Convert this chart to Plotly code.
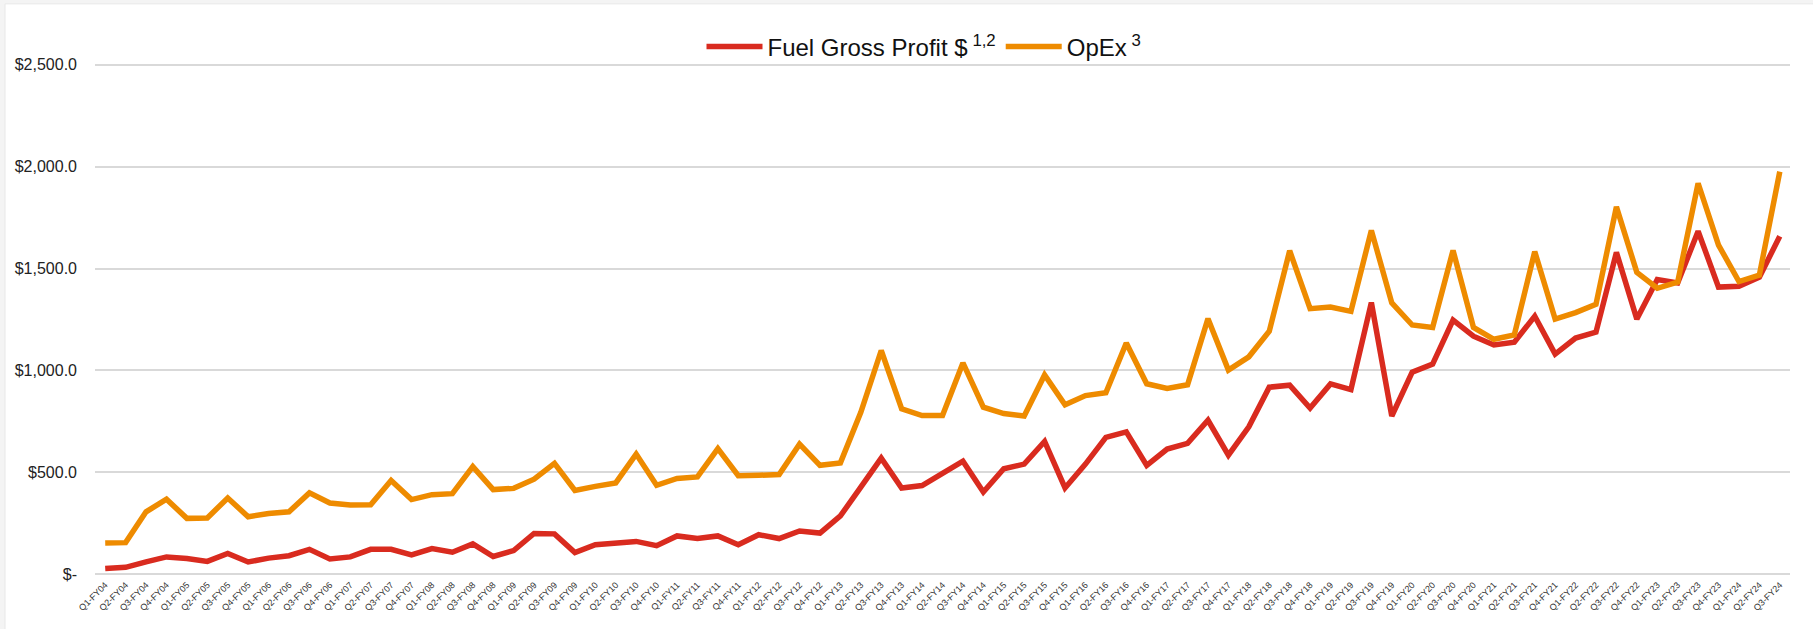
import plotly.graph_objects as go

quarters = [
    "Q1-FY04", "Q2-FY04", "Q3-FY04", "Q4-FY04",
    "Q1-FY05", "Q2-FY05", "Q3-FY05", "Q4-FY05",
    "Q1-FY06", "Q2-FY06", "Q3-FY06", "Q4-FY06",
    "Q1-FY07", "Q2-FY07", "Q3-FY07", "Q4-FY07",
    "Q1-FY08", "Q2-FY08", "Q3-FY08", "Q4-FY08",
    "Q1-FY09", "Q2-FY09", "Q3-FY09", "Q4-FY09",
    "Q1-FY10", "Q2-FY10", "Q3-FY10", "Q4-FY10",
    "Q1-FY11", "Q2-FY11", "Q3-FY11", "Q4-FY11",
    "Q1-FY12", "Q2-FY12", "Q3-FY12", "Q4-FY12",
    "Q1-FY13", "Q2-FY13", "Q3-FY13", "Q4-FY13",
    "Q1-FY14", "Q2-FY14", "Q3-FY14", "Q4-FY14",
    "Q1-FY15", "Q2-FY15", "Q3-FY15", "Q4-FY15",
    "Q1-FY16", "Q2-FY16", "Q3-FY16", "Q4-FY16",
    "Q1-FY17", "Q2-FY17", "Q3-FY17", "Q4-FY17",
    "Q1-FY18", "Q2-FY18", "Q3-FY18", "Q4-FY18",
    "Q1-FY19", "Q2-FY19", "Q3-FY19", "Q4-FY19",
    "Q1-FY20", "Q2-FY20", "Q3-FY20", "Q4-FY20",
    "Q1-FY21", "Q2-FY21", "Q3-FY21", "Q4-FY21",
    "Q1-FY22", "Q2-FY22", "Q3-FY22", "Q4-FY22",
    "Q1-FY23", "Q2-FY23", "Q3-FY23", "Q4-FY23",
    "Q1-FY24", "Q2-FY24", "Q3-FY24",
]

fuel_gross_profit = [
    29, 35, 62, 86,
    78, 64, 103, 61,
    80, 92, 123, 76,
    86, 123, 123, 96,
    127, 109, 150, 88,
    117, 201, 199, 107,
    146, 154, 162, 141,
    189, 176, 189, 146,
    195, 176, 213, 203,
    287, 428, 570, 424,
    436, 496, 555, 404,
    518, 541, 652, 424,
    541, 672, 699, 535,
    615, 643, 756, 585,
    724, 918, 928, 816,
    934, 906, 1333, 777,
    992, 1031, 1247, 1168,
    1125, 1139, 1266, 1080,
    1159, 1188, 1579, 1252,
    1446, 1429, 1683, 1409,
    1413, 1458, 1658,
]

opex = [
    154, 156, 307, 369,
    275, 277, 375, 283,
    299, 307, 400, 350,
    340, 342, 461, 367,
    391, 396, 529, 416,
    422, 467, 545, 412,
    432, 449, 590, 437,
    471, 478, 617, 484,
    486, 490, 639, 535,
    547, 795, 1098, 812,
    779, 779, 1037, 820,
    789, 777, 978, 832,
    877, 891, 1135, 935,
    912, 930, 1254, 1002,
    1067, 1192, 1587, 1303,
    1311, 1290, 1687, 1331,
    1223, 1211, 1589, 1211,
    1153, 1174, 1583, 1252,
    1284, 1325, 1802, 1481,
    1403, 1433, 1918, 1615,
    1436, 1468, 1975,
]

y_tick_values = [0, 500, 1000, 1500, 2000, 2500]
y_tick_labels = ["$-", "$500.0", "$1,000.0", "$1,500.0", "$2,000.0", "$2,500.0"]

RED = "#D92B1F"
ORANGE = "#EE8B00"
FONT = "Liberation Sans, Arial, sans-serif"

W, H = 1813, 629
# plot area: value 0 at y=574.7px, 2500 at y=64.7px, x from 95 to 1790
PAD = 12.5  # small range padding so edge gridlines are drawn
Y0_PX, Y1_PX = 574.7, 64.7
scale = (Y0_PX - Y1_PX) / 2500.0
T = Y1_PX - PAD * scale
B = H - (Y0_PX + PAD * scale)
L, R = 95, W - 1790
pw, ph = W - L - R, H - T - B


def px_x(p):
    return (p - L) / pw


def px_y(p):
    return (H - B - p) / ph


fig = go.Figure()
fig.add_trace(go.Scatter(
    x=quarters, y=fuel_gross_profit, mode="lines",
    name="Fuel Gross Profit $\u2009<sup>1,2</sup>",
    line=dict(color=RED, width=5.5),
))
fig.add_trace(go.Scatter(
    x=quarters, y=opex, mode="lines",
    name="OpEx\u2009<sup>3</sup>",
    line=dict(color=ORANGE, width=5.5),
))

fig.add_shape(
    type="rect", xref="paper", yref="paper", layer="below",
    x0=px_x(5), x1=px_x(W + 5), y0=px_y(H + 5), y1=px_y(4),
    fillcolor="white", line=dict(color="#E8E8E8", width=1),
)

fig.update_layout(
    width=W, height=H,
    margin=dict(l=L, r=R, t=T, b=B, autoexpand=False),
    paper_bgcolor="#F4F4F4",
    plot_bgcolor="white",
    font=dict(family=FONT, color="#222222"),
    showlegend=True,
    legend=dict(
        orientation="h",
        x=px_x(924), xanchor="center",
        y=px_y(47), yanchor="middle",
        font=dict(size=24, color="#111111", family=FONT),
        itemwidth=56,
        bgcolor="rgba(0,0,0,0)",
        traceorder="normal",
    ),
    xaxis=dict(
        type="category",
        range=[-0.5, len(quarters) - 0.5],
        tickangle=-45,
        tickfont=dict(size=9, color="#333333", family=FONT),
        showgrid=False,
        showline=False,
        zeroline=False,
        ticks="",
    ),
    yaxis=dict(
        range=[-PAD, 2500 + PAD],
        tickvals=y_tick_values,
        ticktext=y_tick_labels,
        tickfont=dict(size=16, color="#222222", family=FONT),
        showgrid=True,
        gridcolor="#D9D9D9",
        gridwidth=1.5,
        zeroline=False,
        showline=False,
        ticks="",
        ticklabelstandoff=17,
    ),
)

fig.write_html(
    "out.html",
    config={"displayModeBar": False},
    post_script="document.body.style.margin='0';document.body.style.background='#F4F4F4';",
)
